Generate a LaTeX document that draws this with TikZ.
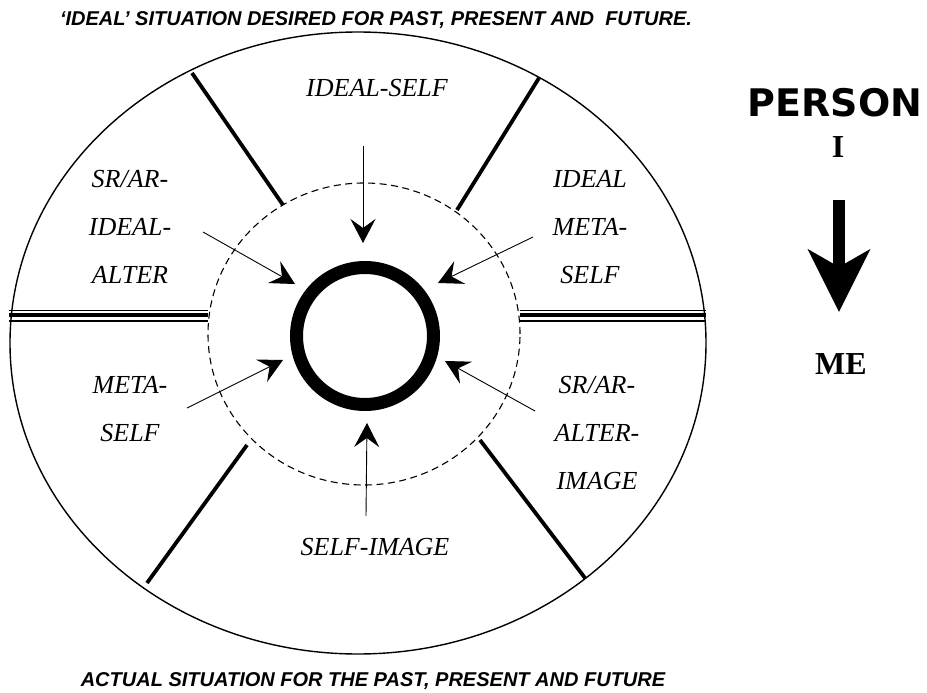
\documentclass[tikz,border=0pt]{standalone}
\usepackage{fontspec}
\setmainfont{Liberation Serif}
\newfontfamily\headfont{Liberation Sans}
\newfontfamily\heavyfont{DejaVu Sans}
\usetikzlibrary{arrows.meta,positioning}
\tikzset{
  rim/.style={line width=1.4pt},
  zone/.style={line width=1.1pt, dash pattern=on 7pt off 4.5pt},
  core/.style={circle, draw, line width=13pt, minimum size=137pt, inner sep=0pt},
  spoke/.style={line width=3.8pt},
  pull/.style={-{Stealth[length=24pt, width=25pt, inset=9pt]}, line width=0.9pt},
  role/.style={font=\fontsize{26}{48}\selectfont\itshape, align=center, inner sep=0pt, anchor=north},
  banner/.style={font=\headfont\fontsize{20}{20}\selectfont\bfseries\itshape, inner sep=0pt},
  sidetxt/.style={font=\fontsize{32}{32}\selectfont\bfseries, inner sep=0pt},
}

\begin{document}
\begin{tikzpicture}[x=1pt, y=-1pt]
  \useasboundingbox (0,0) rectangle (927,693);
  % outer field and inner zone
  \draw[rim] (358,343) ellipse [x radius=348pt, y radius=311pt];
  \draw[zone] (364,334) ellipse [x radius=156pt, y radius=151pt];
  \node[core] (core) at (365,336) {};
  % dividers
  \draw[spoke] (192,73) -- (283,205);
  \draw[spoke] (457,210) -- (539,78);
  \draw[spoke] (247,445) -- (147,583);
  \draw[spoke] (480,440) -- (585,578);
  \foreach \yy/\ww in {310.3/1.5, 315/4.6, 321/2}{
    \draw[line width=\ww pt] (9,\yy) -- (208,\yy);
    \draw[line width=\ww pt] (520,\yy) -- (706,\yy);}
  % arrows towards the core
  \coordinate (tailN) at (363,146);  \coordinate (headN) at (363,243);
  \coordinate (tailS) at (366,516);  \coordinate (headS) at (367,423);
  \coordinate (tailNW) at (203,232); \coordinate (headNW) at (295,284);
  \coordinate (tailNE) at (533,237); \coordinate (headNE) at (438,283);
  \coordinate (tailSW) at (187,408); \coordinate (headSW) at (283,360);
  \coordinate (tailSE) at (535,411); \coordinate (headSE) at (445,361);
  \foreach \d in {N,S,NW,NE,SW,SE}
    \draw[pull] (tail\d) -- (head\d);
  % labels
  \node[role] (idself) at (377,79) {IDEAL-SELF};
  \node[role] (selfimg) at (375,538) {SELF-IMAGE};
  \node[role] (idalter) at (130,170) {SR/AR-\\IDEAL-\\ALTER};
  \node[role] (idmeta) at (590,170) {IDEAL\\META-\\SELF};
  \node[role] (meta) at (130,376) {META-\\SELF};
  \node[role] (alter) at (597,376) {SR/AR-\\ALTER-\\IMAGE};
  % headings
  \node[banner] (ideal) at (376,20) {‘IDEAL’ SITUATION DESIRED FOR PAST, PRESENT AND\ \ FUTURE.};
  \node[banner] (actual) at (373,681) {ACTUAL SITUATION FOR THE PAST, PRESENT AND FUTURE};
  % person side
  \node[font=\heavyfont\fontsize{38}{38}\selectfont\bfseries, inner sep=0pt] (person) at (835,103) {PERSON};
  \node[sidetxt] (pI) at (838,147) {I};
  \node[sidetxt] (pME) at (841,364) {ME};
  \draw[line width=12pt, -{Stealth[length=62pt, width=61pt, inset=17pt]}] (839,200) -- (839,312);
\end{tikzpicture}
\end{document}
